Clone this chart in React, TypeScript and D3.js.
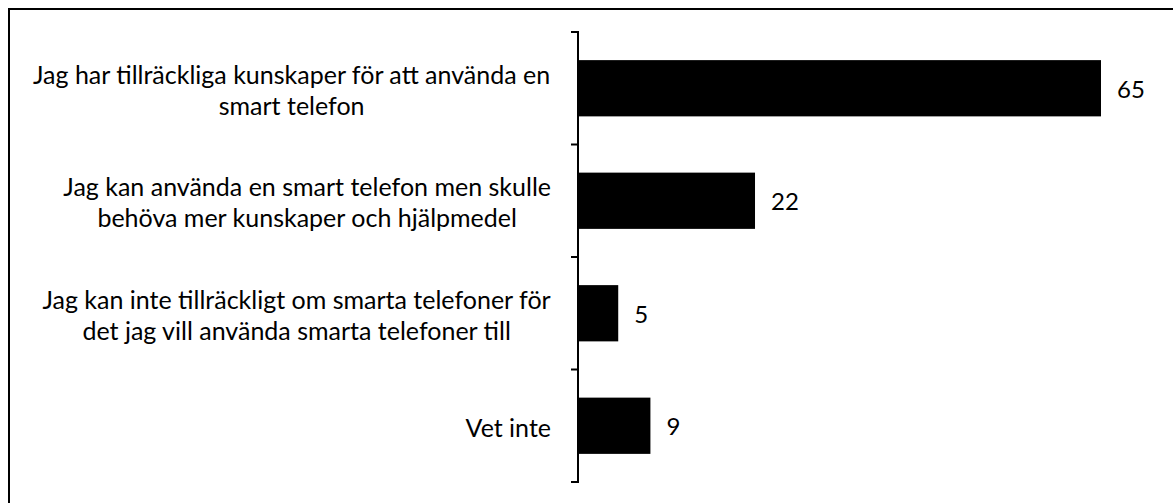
import React, { useMemo } from "react";
import * as d3 from "d3";

const categories: string[][] = [
  ["Jag har tillräckliga kunskaper för att använda en", "smart telefon"],
  ["Jag kan använda en smart telefon men skulle", "behöva mer kunskaper och hjälpmedel"],
  ["Jag kan inte tillräckligt om smarta telefoner för", "det jag vill använda smarta telefoner till"],
  ["Vet inte"],
];
const values: number[] = [65, 22, 5, 9];

const W = 1173;
const H = 503;
const FONT = "Lato, 'DejaVu Sans', sans-serif";
const FS = 25;
const VFS = 24;
const LH = 31;

function measure(text: string): number {
  const c = document.createElement("canvas");
  const ctx = c.getContext("2d");
  if (!ctx) return text.length * FS * 0.5;
  ctx.font = `${FS}px ${FONT}`;
  return ctx.measureText(text).width;
}

export default function App() {
  const ids = categories.map((_, i) => String(i));
  const y = d3.scaleBand<string>().domain(ids).range([32, 482]).paddingInner(0.5).paddingOuter(0.25);
  const x = d3.scaleLinear().domain([0, 65]).range([578, 1101]);
  const step = y.step();
  const boundaries = d3.range(categories.length + 1).map((i) => 32 + i * step);
  const labelRight = 551;

  const widths = useMemo(() => categories.map((lines) => Math.max(...lines.map(measure))), []);

  return (
    <svg width={W} height={H} style={{ position: "absolute", left: 0, top: 0, display: "block" }} fontFamily={FONT}>
      <rect x={0} y={0} width={W} height={H} fill="#fff" />
      <line x1={8} x2={W} y1={9} y2={9} stroke="#000" strokeWidth={2} />
      <line x1={9} x2={9} y1={8} y2={H} stroke="#000" strokeWidth={2} />
      {values.map((v, i) => (
        <rect key={i} x={x(0)} y={y(String(i))} width={x(v) - x(0)} height={y.bandwidth()} fill="#000" />
      ))}
      <line x1={578} x2={578} y1={boundaries[0]} y2={boundaries[boundaries.length - 1]} stroke="#000" strokeWidth={2} />
      {boundaries.map((b, i) => (
        <line key={i} x1={571} x2={579} y1={b} y2={b} stroke="#000" strokeWidth={2} />
      ))}
      {categories.map((lines, i) => {
        const cy = (y(String(i)) as number) + y.bandwidth() / 2;
        const cx = labelRight - widths[i] / 2;
        return (
          <text key={i} x={cx} textAnchor="middle" fontSize={FS} fill="#000">
            {lines.map((l, j) => (
              <tspan key={j} x={cx} y={cy + 1 + (j - (lines.length - 1) / 2) * LH} dominantBaseline="central">
                {l}
              </tspan>
            ))}
          </text>
        );
      })}
      {values.map((v, i) => (
        <text
          key={i}
          x={x(v) + 16}
          y={(y(String(i)) as number) + y.bandwidth() / 2}
          dominantBaseline="central"
          fontSize={VFS}
          fill="#000"
        >
          {v}
        </text>
      ))}
    </svg>
  );
}
